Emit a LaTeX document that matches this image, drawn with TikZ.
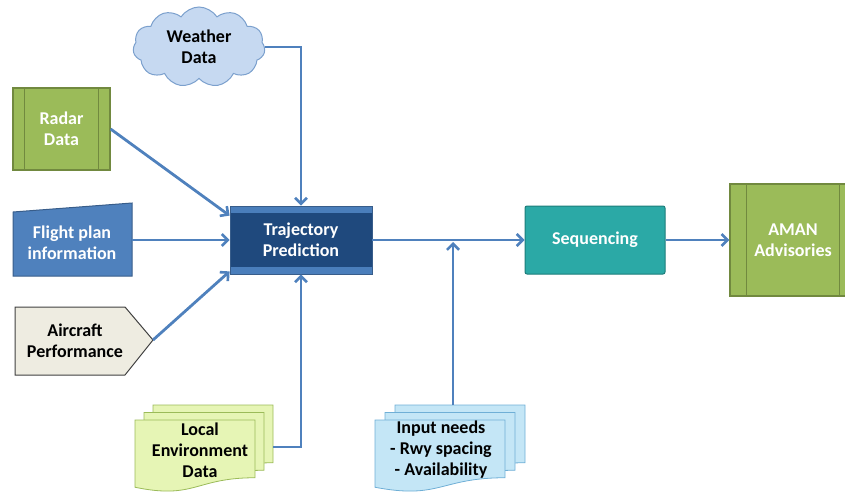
\documentclass[tikz,border=0pt]{standalone}
\usepackage{fontspec}
\setmainfont{Carlito}
\usetikzlibrary{arrows.meta,shapes.symbols}
\definecolor{arrowblue}{HTML}{4F81BD}
\definecolor{grfill}{HTML}{9BBB59}
\definecolor{grline}{HTML}{71893F}
\definecolor{fpfill}{HTML}{4F81BD}
\definecolor{fpline}{HTML}{385D8A}
\definecolor{tpdark}{HTML}{1F497D}
\definecolor{tpband}{HTML}{4A7EBB}
\definecolor{seqfill}{HTML}{2BA9A6}
\definecolor{seqline}{HTML}{1C7D7A}
\definecolor{acfill}{HTML}{EEECE1}
\definecolor{acline}{HTML}{404040}
\definecolor{envfill}{HTML}{E6F5B5}
\definecolor{envline}{HTML}{9BBB59}
\definecolor{insfill}{HTML}{C4E6F6}
\definecolor{insline}{HTML}{6FAFD6}
\definecolor{cloudfill}{HTML}{C6D9F1}
\definecolor{cloudline}{HTML}{7BA0CD}
\newcommand\docsheet[5]{%
  \path[#5] ({#1},{#2}) -- ({#1+#3},{#2}) -- ({#1+#3},{#2+0.802*#4})
    .. controls ({#1+0.5*#3},{#2+0.802*#4}) and ({#1+0.5*#3},{#2+1.107*#4}) .. ({#1},{#2+0.934*#4}) -- cycle;}
\begin{document}
\begin{tikzpicture}[x=1pt,y=-1pt,
  lbl/.style={font=\bfseries\fontsize{18}{21}\selectfont, align=center},
  wlbl/.style={lbl, text=white},
  arr/.style={draw=arrowblue, line width=2.8pt, -{Straight Barb[length=6pt,width=12pt,line width=2.6pt]}},
  greenbox/.style={draw=grline, line width=1.2pt, fill=grfill, wlbl, inner sep=0pt},
  envsheet/.style={draw=envline, line width=0.8pt, fill=envfill},
  inssheet/.style={draw=insline, line width=0.8pt, fill=insfill},
]
\useasboundingbox (0,0) rectangle (845,495);
\clip (0,0) rectangle (845,495);

% Weather cloud
\node[cloud, cloud puffs=11, cloud puff arc=115, aspect=1.7, minimum width=132pt, minimum height=80pt,
  draw=cloudline, line width=1pt, fill=cloudfill, lbl, inner sep=0pt] (weather) at (199,47) {Weather\\Data};

% Radar
\node[greenbox, minimum width=97pt, minimum height=82pt] (radar) at (61.5,129) {Radar\\Data};
\draw[grline, line width=1.2pt] ([xshift=12pt]radar.north west) -- ([xshift=12pt]radar.south west)
  ([xshift=-12pt]radar.north east) -- ([xshift=-12pt]radar.south east);

% Flight plan
\filldraw[fill=fpfill, draw=fpline, line width=1pt] (13,212) -- (132,203) -- (132,276) -- (13,276) -- cycle;
\node[wlbl] (flight) at (72,243) {Flight plan\\information};
\coordinate (fpout) at (132,240);

% Aircraft performance
\filldraw[fill=acfill, draw=acline, line width=1pt] (15,307) -- (125,307) -- (153,340) -- (125,375) -- (15,375) -- cycle;
\node[lbl] (acp) at (75,341) {Aircraft\\Performance};
\coordinate (acpout) at (153,340);

% Trajectory prediction
\node[wlbl, draw=fpline, line width=0.8pt, fill=tpband, minimum width=142pt, minimum height=68pt,
  path picture={\fill[tpdark] ([yshift=-7pt]path picture bounding box.north west) rectangle ([yshift=7pt]path picture bounding box.south east);}]
  (tp) at (301,240) {Trajectory\\Prediction};

% Sequencing
\node[wlbl, draw=seqline, fill=seqfill, line width=1pt, rounded corners=2pt, minimum width=140pt, minimum height=68pt]
  (seq) at (595,240) {Sequencing};

% AMAN
\node[greenbox, minimum width=126pt, minimum height=112pt] (aman) at (793,240) {AMAN\\Advisories};
\draw[grline, line width=1.2pt] ([xshift=17pt]aman.north west) -- ([xshift=17pt]aman.south west)
  ([xshift=-17pt]aman.north east) -- ([xshift=-17pt]aman.south east);

% Local environment data
\foreach \d in {2,1,0} {\docsheet{135+9*\d}{420-7.5*\d}{120}{72}{envsheet}}
\node[lbl] (env) at (200,450) {Local\\Environment\\Data};
\coordinate (envout) at (273,447);

% Input needs
\foreach \d in {2,1,0} {\docsheet{375+10*\d}{420-7.5*\d}{130}{72}{inssheet}}
\node[lbl] (ins) at (441,450) {Input needs\\- Rwy spacing\\- Availability};
\coordinate (insout) at (453,405);

% Connectors
\draw[arr] (weather.east) -| (tp.north);
\draw[arr] (radar.east) -- ([yshift=-10pt]tp.north west);
\draw[arr] (fpout) -- (tp.west);
\draw[arr] (acpout) -- ([yshift=3pt]tp.south west);
\draw[arr] (envout) -| (tp.south);
\draw[arr] (tp.east) -- (seq.west);
\draw[arr, shorten >=2pt] (insout) -- (insout |- tp.east);
\draw[arr] (seq.east) -- (aman.west);
\end{tikzpicture}
\end{document}
